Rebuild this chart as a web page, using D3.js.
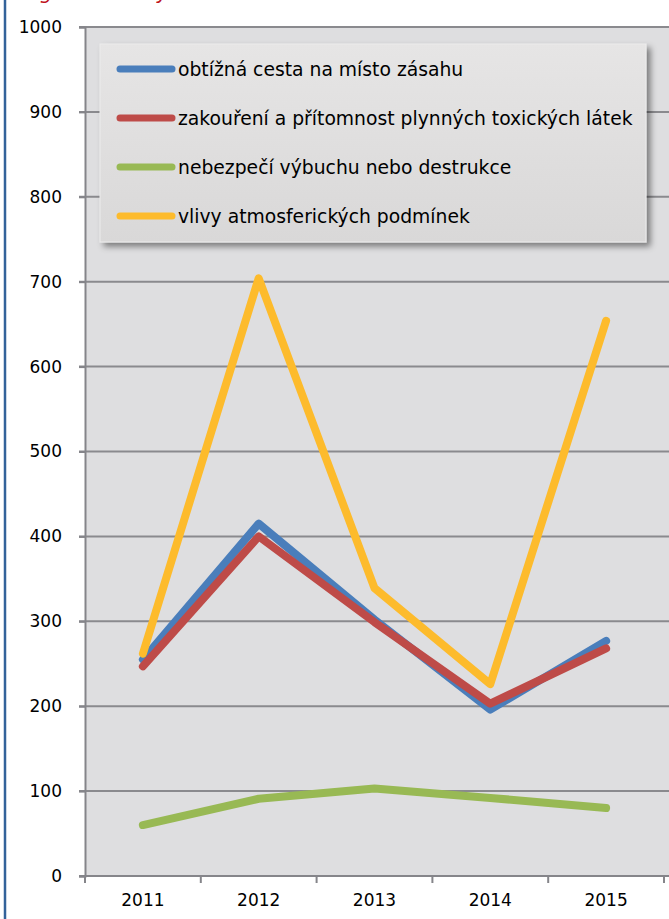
<!DOCTYPE html>
<html>
<head>
<meta charset="utf-8">
<script src="https://cdn.jsdelivr.net/npm/d3@7"></script>
<style>
  body { margin: 0; background: #fff; }
  svg { display: block; }
  text { font-family: "DejaVu Sans", sans-serif; fill: #000; }
</style>
</head>
<body>
<div class="canvas"></div>
<script>
// chart values
const years = ['2011', '2012', '2013', '2014', '2015'];
const seriesNames = [
  'obtížná cesta na místo zásahu',
  'zakouření a přítomnost plynných toxických látek',
  'nebezpečí výbuchu nebo destrukce',
  'vlivy atmosferických podmínek'
];
const cestaValues = [255, 415, 302, 196, 277];
const zakoureniValues = [247, 400, 299, 203, 268];
const vybuchValues = [60, 91, 103, 92, 80];
const atmosferaValues = [262, 704, 339, 226, 654];
const yTicks = [0, 100, 200, 300, 400, 500, 600, 700, 800, 900, 1000];
const colours = ['#4a7ebb', '#be4b48', '#98b954', '#fdbb2c'];

const width = 669, height = 919;
const margin = { top: 27, right: 5, bottom: 43, left: 85 };
const graphWidth = width - margin.left - margin.right;
const graphHeight = height - margin.top - margin.bottom;

const svg = d3.select('.canvas')
  .append('svg')
    .attr('width', width)
    .attr('height', height);

const defs = svg.append('defs');
const shadow = defs.append('filter')
  .attr('id', 'shadow')
  .attr('x', '-5%').attr('y', '-10%')
  .attr('width', '115%').attr('height', '130%');
shadow.append('feDropShadow')
  .attr('dx', 4).attr('dy', 4)
  .attr('stdDeviation', 3)
  .attr('flood-color', '#000')
  .attr('flood-opacity', 0.45);
const grad = defs.append('linearGradient')
  .attr('id', 'legendFill')
  .attr('x1', 0).attr('y1', 0).attr('x2', 0).attr('y2', 1);
grad.append('stop').attr('offset', '0%').attr('stop-color', '#e6e5e5');
grad.append('stop').attr('offset', '100%').attr('stop-color', '#d9d8d8');

// red title, cut off at the top of the picture as in the original
svg.append('text')
  .attr('x', 40)
  .attr('y', -1)
  .style('fill', '#c0141c')
  .style('font-size', '20px')
  .style('font-style', 'italic')
  .text('graf 5 – vlivy');

// dark blue left border
svg.append('line')
  .attr('x1', 5).attr('x2', 5)
  .attr('y1', 0).attr('y2', height)
  .attr('stroke', '#33629a')
  .attr('stroke-width', 2.5);

// plot background
svg.append('rect')
  .attr('x', margin.left)
  .attr('y', margin.top)
  .attr('width', width - margin.left)
  .attr('height', graphHeight)
  .attr('fill', '#dedee0');

const graph = svg.append('g')
  .attr('transform', `translate(${margin.left}, ${margin.top})`);

const x = d3.scalePoint().domain(years).range([0, graphWidth]).padding(0.5);
const xBand = d3.scaleBand().domain(years).range([0, graphWidth]);
const y = d3.scaleLinear().domain([0, 1000]).range([graphHeight, 0]);

// gridlines
graph.append('g')
  .selectAll('line')
  .data(yTicks.filter(d => d > 0))
  .enter()
  .append('line')
    .attr('x1', -6)
    .attr('x2', width - margin.left)
    .attr('y1', d => y(d))
    .attr('y2', d => y(d))
    .attr('stroke', '#8a8a8e')
    .attr('stroke-width', 2);

// y axis
const yAxis = d3.axisLeft(y).tickValues(yTicks).tickSize(6).tickPadding(17).tickFormat(d3.format('d'));
const yAxisGroup = graph.append('g').attr('class', 'y-axis').call(yAxis);
yAxisGroup.select('.domain').attr('stroke', '#85858a').attr('stroke-width', 2);
yAxisGroup.selectAll('.tick line').attr('stroke', '#85858a').attr('stroke-width', 2);
yAxisGroup.selectAll('text').style('font-size', '17px').style('fill', '#000');

// x axis with ticks between the categories
const xAxisGroup = graph.append('g')
  .attr('class', 'x-axis')
  .attr('transform', `translate(0, ${graphHeight})`);
xAxisGroup.append('line')
  .attr('x1', -6).attr('x2', width - margin.left)
  .attr('y1', 0).attr('y2', 0)
  .attr('stroke', '#85858a').attr('stroke-width', 2);
xAxisGroup.selectAll('.xtick')
  .data(years.concat(['end']))
  .enter()
  .append('line')
    .attr('class', 'xtick')
    .attr('x1', (d, i) => i < years.length ? xBand(d) : graphWidth)
    .attr('x2', (d, i) => i < years.length ? xBand(d) : graphWidth)
    .attr('y1', 0).attr('y2', 7)
    .attr('stroke', '#85858a').attr('stroke-width', 2);
xAxisGroup.selectAll('.xlabel')
  .data(years)
  .enter()
  .append('text')
    .attr('class', 'xlabel')
    .attr('x', d => x(d))
    .attr('y', 24)
    .attr('dy', '0.35em')
    .attr('text-anchor', 'middle')
    .style('font-size', '17px')
    .text(d => d);

// the lines
const allSeries = [cestaValues, zakoureniValues, vybuchValues, atmosferaValues];
const line = d3.line()
  .x((d, i) => x(years[i]))
  .y(d => y(d));

allSeries.forEach((values, i) => {
  graph.append('path')
    .datum(values)
    .attr('fill', 'none')
    .attr('stroke', colours[i])
    .attr('stroke-width', 8)
    .attr('stroke-linecap', 'round')
    .attr('stroke-linejoin', 'round')
    .attr('d', line);
});

// legend
const legendBox = { x: 100, y: 44, w: 546, h: 198 };
svg.append('rect')
  .attr('x', legendBox.x)
  .attr('y', legendBox.y)
  .attr('width', legendBox.w)
  .attr('height', legendBox.h)
  .attr('fill', 'url(#legendFill)')
  .attr('stroke', '#ececec')
  .attr('stroke-width', 1)
  .attr('filter', 'url(#shadow)');

const legend = svg.selectAll('.legend')
  .data(seriesNames)
  .enter()
  .append('g')
  .attr('class', 'legend')
  .attr('transform', (d, i) => `translate(${legendBox.x + 20}, ${69 + i * 49})`);

legend.append('line')
  .attr('x1', 0).attr('x2', 52)
  .attr('y1', 0).attr('y2', 0)
  .attr('stroke', (d, i) => colours[i])
  .attr('stroke-width', 7)
  .attr('stroke-linecap', 'round');

const labels = legend.append('text')
  .attr('x', 58)
  .attr('y', 0)
  .attr('dy', '0.35em')
  .style('font-size', '16px')
  .text(d => d);

// fit the longest label to the width in the picture
const longest = d3.max(labels.nodes(), n => n.getComputedTextLength());
const fs = 16 * 455 / longest;
labels.style('font-size', fs + 'px');
</script>
</body>
</html>
